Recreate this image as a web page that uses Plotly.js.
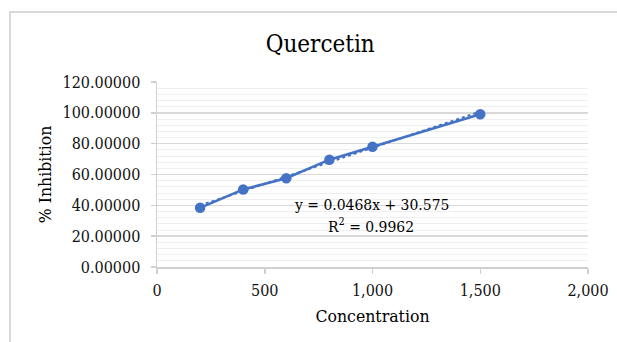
<!DOCTYPE html>
<html>
<head>
<meta charset="utf-8">
<script src="https://cdn.plot.ly/plotly-3.0.1.min.js"></script>
<style>
  html, body { margin: 0; padding: 0; background: #fff; }
  #frame { position: absolute; left: 9px; top: 11px; width: 640px; height: 360px; border-left: 2px solid #d9d9d9; border-top: 2px solid #d9d9d9; }
  #chart { position: absolute; left: 0; top: 0; width: 617px; height: 342px; }
</style>
</head>
<body>
<div id="frame"></div>
<div id="chart"></div>
<script>
const concentration = [200, 400, 600, 800, 1000, 1500];
const inhibition = [38.4, 50.3, 57.6, 69.6, 78.0, 99.1];
const slope = 0.0468;
const intercept = 30.575;
const trendX = [200, 1500];
const trendY = trendX.map(x => slope * x + intercept);
const xTicks = [0, 500, 1000, 1500, 2000];
const xTickLabels = ['0', '500', '1,000', '1,500', '2,000'];
const yTicks = [0, 20, 40, 60, 80, 100, 120];
const yTickLabels = ['0.00000', '20.00000', '40.00000', '60.00000', '80.00000', '100.00000', '120.00000'];
const eqText = 'y = 0.0468x + 30.575';
const r2Text = 'R<sup>2</sup> = 0.9962';

const serif = 'DejaVu Serif Condensed, DejaVu Serif, serif';
const blue = '#4472C4';

const traces = [
  {
    x: trendX, y: trendY, mode: 'lines', type: 'scatter',
    line: { color: blue, width: 2, dash: 'dot' }, hoverinfo: 'skip'
  },
  {
    x: concentration, y: inhibition, mode: 'lines+markers', type: 'scatter',
    line: { color: blue, width: 2.5 },
    marker: { color: blue, size: 10.5 }
  }
];

const layout = {
  width: 617, height: 342,
  paper_bgcolor: 'rgba(0,0,0,0)', plot_bgcolor: 'rgba(0,0,0,0)',
  showlegend: false,
  margin: { l: 157, r: 29, t: 82, b: 75 },
  title: {
    text: 'Quercetin', x: 0.519, xanchor: 'center', y: 0.872, yanchor: 'middle',
    font: { family: serif, size: 24, color: '#000' }
  },
  xaxis: {
    range: [0, 2000], tickvals: xTicks, ticktext: xTickLabels,
    showgrid: false, zeroline: false,
    showline: true, linecolor: '#d0d0d0', linewidth: 1.5,
    ticks: 'outside', ticklen: 5, tickcolor: '#d0d0d0', tickwidth: 1.5,
    ticklabelstandoff: 3,
    tickfont: { family: serif, size: 16, color: '#111' },
    title: { text: 'Concentration', standoff: 11, font: { family: serif, size: 17.5, color: '#000' } }
  },
  yaxis: {
    range: [0, 120], tickvals: yTicks, ticktext: yTickLabels,
    showgrid: true, gridcolor: '#d9d9d9', gridwidth: 1.5,
    minor: { dtick: 4, showgrid: true, gridcolor: '#efefef', gridwidth: 1, ticks: '' },
    zeroline: false,
    showline: true, linecolor: '#d0d0d0', linewidth: 1.5,
    ticks: 'outside', ticklen: 5, tickcolor: '#d0d0d0', tickwidth: 1.5,
    ticklabelstandoff: 7,
    tickfont: { family: serif, size: 16, color: '#111' },
    title: { text: '% Inhibition', standoff: 6, font: { family: serif, size: 17.5, color: '#000' } }
  },
  annotations: [
    { x: 0.497, y: 0.337, xref: 'paper', yref: 'paper', text: eqText, showarrow: false,
      xanchor: 'center', yanchor: 'middle', font: { family: serif, size: 15.5, color: '#000' } },
    { x: 0.497, y: 0.222, xref: 'paper', yref: 'paper', text: r2Text, showarrow: false,
      xanchor: 'center', yanchor: 'middle', font: { family: serif, size: 15.5, color: '#000' } }
  ]
};

Plotly.newPlot('chart', traces, layout, { displayModeBar: false, staticPlot: true });
</script>
</body>
</html>
